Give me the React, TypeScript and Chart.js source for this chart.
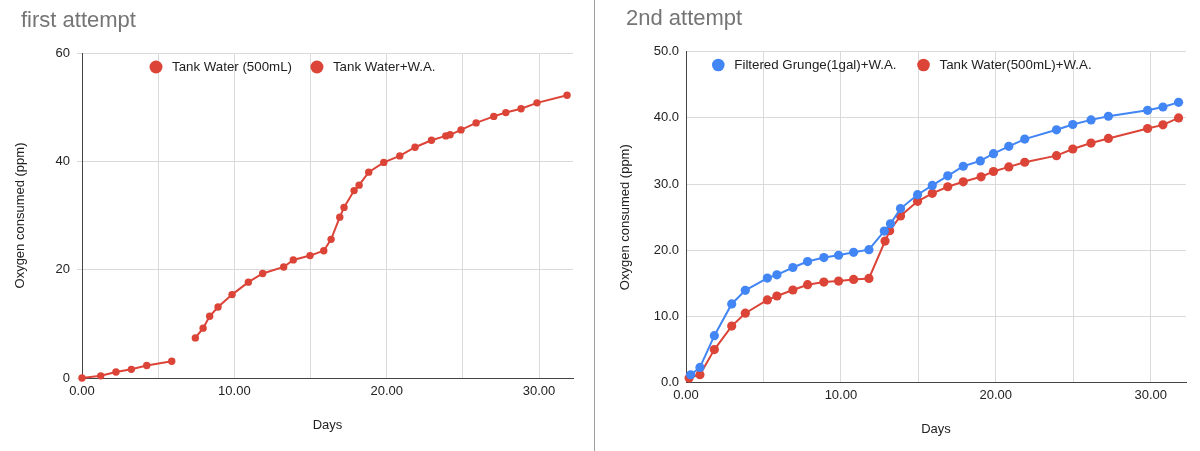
import React, { useEffect, useRef } from 'react';
import { Chart, registerables } from 'chart.js';

Chart.register(...registerables);

const FONT = '"Liberation Sans", Arial, Helvetica, sans-serif';
const RED = '#DB4437';
const BLUE = '#4285F4';

// ---------- Chart 1: first attempt ----------
const C1_TITLE = 'first attempt';
const C1_S1_LABEL = 'Tank Water (500mL)';
const C1_S1_X = [0, 1.23, 2.23, 3.24, 4.25, 5.89];
const C1_S1_Y = [0, 0.4, 1.1, 1.6, 2.3, 3.1];
const C1_S2_LABEL = 'Tank Water+W.A.';
const C1_S2_X = [7.44, 7.95, 8.38, 8.93, 9.85, 10.92, 11.86, 13.24, 13.87, 14.97, 15.87, 16.35, 16.92, 17.2, 17.86, 18.19, 18.82, 19.81, 20.86, 21.86, 22.94, 23.88, 24.16, 24.88, 25.87, 27.03, 27.82, 28.82, 29.87, 31.84];
const C1_S2_Y = [7.4, 9.2, 11.4, 13.1, 15.4, 17.7, 19.3, 20.5, 21.8, 22.6, 23.5, 25.6, 29.7, 31.5, 34.6, 35.6, 38.0, 39.8, 41.0, 42.6, 43.9, 44.7, 44.9, 45.8, 47.1, 48.3, 49.0, 49.7, 50.8, 52.2];
const C1_X_GRID = [0, 5, 10, 15, 20, 25, 30];
const C1_X_LABELS = [0, 10, 20, 30];
const C1_X_MAX = 32.23;
const C1_Y_TICKS = [0, 20, 40, 60];

// ---------- Chart 2: 2nd attempt ----------
const C2_TITLE = '2nd attempt';
const C2_S1_LABEL = 'Filtered Grunge(1gal)+W.A.';
const C2_S1_X = [0.3, 0.9, 1.83, 2.95, 3.83, 5.25, 5.87, 6.9, 7.85, 8.9, 9.85, 10.82, 11.81, 12.8, 13.2, 13.85, 14.95, 15.9, 16.9, 17.9, 19.0, 19.85, 20.84, 21.87, 23.92, 24.97, 26.15, 27.27, 29.8, 30.79, 31.8];
const C2_S1_Y = [1.2, 2.3, 7.1, 11.9, 13.95, 15.8, 16.3, 17.4, 18.3, 18.9, 19.25, 19.7, 20.1, 22.9, 24.0, 26.3, 28.4, 29.8, 31.25, 32.7, 33.5, 34.6, 35.7, 36.8, 38.2, 39.0, 39.7, 40.25, 41.15, 41.65, 42.35];
const C2_S2_LABEL = 'Tank Water(500mL)+W.A.';
const C2_S2_X = [0.2, 0.9, 1.83, 2.95, 3.83, 5.25, 5.87, 6.9, 7.85, 8.9, 9.85, 10.82, 11.81, 12.85, 13.15, 13.85, 14.95, 15.9, 16.9, 17.9, 19.05, 19.85, 20.84, 21.87, 23.92, 24.97, 26.15, 27.27, 29.8, 30.79, 31.8];
const C2_S2_Y = [0.7, 1.2, 5.0, 8.55, 10.5, 12.5, 13.1, 14.0, 14.8, 15.2, 15.35, 15.6, 15.75, 21.4, 22.95, 25.2, 27.4, 28.6, 29.6, 30.35, 31.1, 31.9, 32.6, 33.3, 34.3, 35.3, 36.2, 36.9, 38.4, 38.95, 40.0];
const C2_X_GRID = [0, 5, 10, 15, 20, 25, 30];
const C2_X_LABELS = [0, 10, 20, 30];
const C2_X_MAX = 32.28;
const C2_Y_TICKS = [0, 10, 20, 30, 40, 50];

const X_TITLE = 'Days';
const Y_TITLE = 'Oxygen consumed (ppm)';

const zip = (xs: number[], ys: number[]) => xs.map((x, i) => ({ x, y: ys[i] }));

const overlayPlugin = {
  id: 'overlay',
  afterDraw(chart: any, _args: any, opts: any) {
    const ctx = chart.ctx;
    ctx.save();
    ctx.font = `22px ${FONT}`;
    ctx.fillStyle = '#757575';
    ctx.textAlign = 'left';
    ctx.textBaseline = 'alphabetic';
    ctx.fillText(opts.title, opts.titleX, opts.titleY);
    ctx.font = `13.3px ${FONT}`;
    ctx.textBaseline = 'middle';
    let x = opts.legendX;
    chart.data.datasets.forEach((ds: any) => {
      ctx.beginPath();
      ctx.arc(x, opts.legendY, opts.dotR, 0, Math.PI * 2);
      ctx.fillStyle = ds.borderColor;
      ctx.fill();
      ctx.fillStyle = '#222';
      ctx.fillText(ds.label, x + 16, opts.legendY + 0.5);
      x += 16 + ctx.measureText(ds.label).width + opts.gap;
    });
    ctx.restore();
  },
};

function makeDataset(label: string, xs: number[], ys: number[], color: string, r: number) {
  return {
    label,
    data: zip(xs, ys),
    borderColor: color,
    backgroundColor: color,
    pointBackgroundColor: color,
    pointBorderWidth: 0,
    pointRadius: r,
    borderWidth: 2,
    tension: 0,
    clip: false as any,
  };
}

function buildConfig(p: {
  datasets: any[];
  xMax: number;
  xGrid: number[];
  xLabels: number[];
  yTicks: number[];
  yDecimals: number;
  padding: any;
  yWidth: number;
  xHeight: number;
  yTickLen: number;
  yTitlePad: number;
  xTickPad: number;
  xTitleBottom: number;
  overlay: any;
}) {
  const tickFont = { family: FONT, size: 13 };
  return {
    type: 'line' as const,
    data: { datasets: p.datasets },
    plugins: [overlayPlugin],
    options: {
      animation: false as const,
      responsive: false,
      events: [] as any[],
      layout: { padding: p.padding },
      plugins: {
        legend: { display: false },
        tooltip: { enabled: false },
        title: { display: false },
        overlay: p.overlay,
      },
      scales: {
        x: {
          type: 'linear' as const,
          min: 0,
          max: p.xMax,
          afterBuildTicks: (s: any) => {
            s.ticks = p.xGrid.map((v) => ({ value: v }));
          },
          afterFit: (s: any) => {
            s.height = p.xHeight;
          },
          ticks: {
            autoSkip: false,
            maxRotation: 0,
            padding: p.xTickPad,
            color: '#222',
            font: tickFont,
            callback: (v: any) => (p.xLabels.includes(Number(v)) ? Number(v).toFixed(2) : ''),
          },
          grid: { color: '#dadada', drawTicks: false, lineWidth: 1 },
          border: { color: '#444', width: 1 },
          title: {
            display: true,
            text: X_TITLE,
            color: '#222',
            font: tickFont,
            padding: { top: 0, bottom: p.xTitleBottom },
          },
        },
        y: {
          type: 'linear' as const,
          min: p.yTicks[0],
          max: p.yTicks[p.yTicks.length - 1],
          afterBuildTicks: (s: any) => {
            s.ticks = p.yTicks.map((v) => ({ value: v }));
          },
          afterFit: (s: any) => {
            s.width = p.yWidth;
          },
          ticks: {
            padding: 7,
            color: '#222',
            font: tickFont,
            callback: (v: any) => Number(v).toFixed(p.yDecimals),
          },
          grid: {
            color: '#dadada',
            drawTicks: p.yTickLen > 0,
            tickLength: p.yTickLen,
            lineWidth: 1,
          },
          border: { color: '#444', width: 1 },
          title: {
            display: true,
            text: Y_TITLE,
            color: '#222',
            font: tickFont,
            padding: { top: p.yTitlePad, bottom: 0 },
          },
        },
      },
    },
  };
}

export default function App() {
  const ref1 = useRef<HTMLCanvasElement>(null);
  const ref2 = useRef<HTMLCanvasElement>(null);

  useEffect(() => {
    const c1 = new Chart(
      ref1.current as HTMLCanvasElement,
      buildConfig({
        datasets: [
          makeDataset(C1_S1_LABEL, C1_S1_X, C1_S1_Y, RED, 3.7),
          makeDataset(C1_S2_LABEL, C1_S2_X, C1_S2_Y, RED, 3.7),
        ],
        xMax: C1_X_MAX,
        xGrid: C1_X_GRID,
        xLabels: C1_X_LABELS,
        yTicks: C1_Y_TICKS,
        yDecimals: 0,
        padding: { left: 8, right: 21, top: 53, bottom: 0 },
        yWidth: 74,
        xHeight: 73,
        yTickLen: 5,
        yTitlePad: 5,
        xTickPad: 6,
        xTitleBottom: 17.5,
        overlay: { title: C1_TITLE, titleX: 21, titleY: 27, legendX: 156, legendY: 67, dotR: 6.5, gap: 25 },
      }) as any
    );
    const c2 = new Chart(
      ref2.current as HTMLCanvasElement,
      buildConfig({
        datasets: [
          makeDataset(C2_S1_LABEL, C2_S1_X, C2_S1_Y, BLUE, 4.6),
          makeDataset(C2_S2_LABEL, C2_S2_X, C2_S2_Y, RED, 4.6),
        ],
        xMax: C2_X_MAX,
        xGrid: C2_X_GRID,
        xLabels: C2_X_LABELS,
        yTicks: C2_Y_TICKS,
        yDecimals: 1,
        padding: { left: 18, right: 14, top: 51.7, bottom: 0 },
        yWidth: 72,
        xHeight: 68.3,
        yTickLen: 0,
        yTitlePad: 4,
        xTickPad: 4.5,
        xTitleBottom: 14.2,
        overlay: { title: C2_TITLE, titleX: 30, titleY: 25, legendX: 122.3, legendY: 65, dotR: 6.3, gap: 27 },
      }) as any
    );
    return () => {
      c1.destroy();
      c2.destroy();
    };
  }, []);

  return (
    <div style={{ position: 'absolute', left: 0, top: 0, width: 1200, height: 451, background: '#fff' }}>
      <canvas ref={ref1} width={594} height={451} style={{ position: 'absolute', left: 0, top: 0 }} />
      <div style={{ position: 'absolute', left: 594, top: 0, width: 1, height: 451, background: '#9e9e9e' }} />
      <canvas ref={ref2} width={604} height={451} style={{ position: 'absolute', left: 596, top: 0 }} />
    </div>
  );
}
